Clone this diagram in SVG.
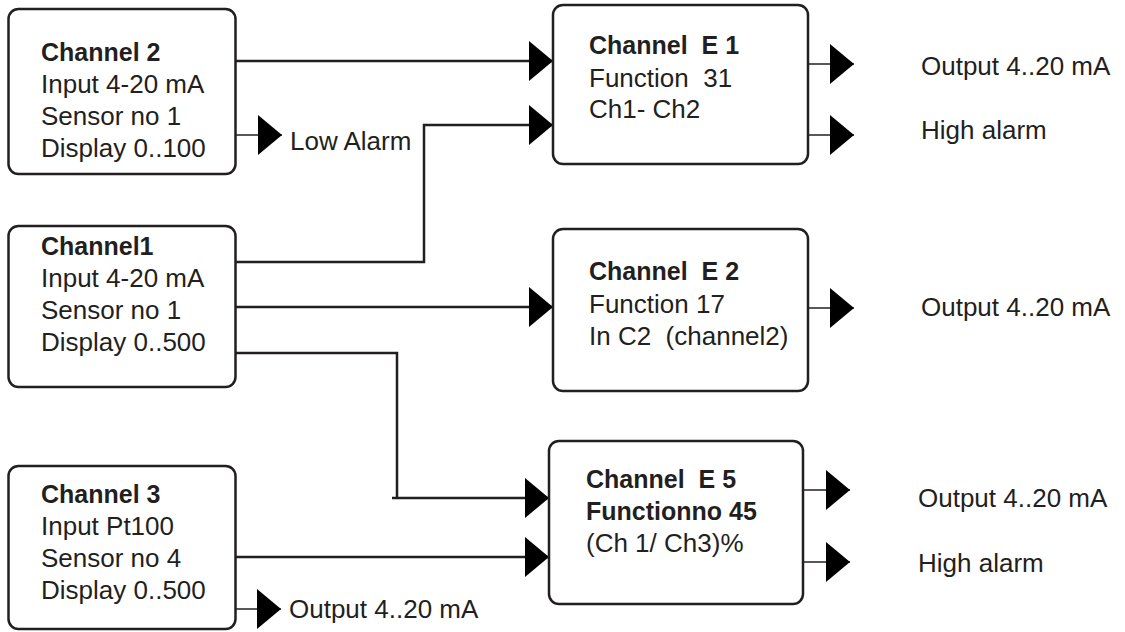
<svg xmlns="http://www.w3.org/2000/svg" width="1125" height="632" viewBox="0 0 1125 632">
<defs>
<style>
.box{fill:#fff;stroke:#231f20;stroke-width:2.5}
.t{font-family:"Liberation Sans",Arial,sans-serif;font-size:26px;fill:#231f20}
.b{font-weight:bold;font-size:25px}
.c{fill:none;stroke:#231f20;stroke-width:2.5}
.o{fill:none;stroke:#231f20;stroke-width:1.5}
</style>
<marker id="arr" markerWidth="24" markerHeight="40" refX="24" refY="20" orient="auto" markerUnits="userSpaceOnUse">
<path d="M0,0 L24,20 L0,40 Z" fill="#000"/>
</marker>
</defs>
<rect width="1125" height="632" fill="#fff"/>
<g id="connectors">
<path class="c" d="M236,61 H553" marker-end="url(#arr)"/>
<path class="c" d="M236,262 H424 V125 H553" marker-end="url(#arr)"/>
<path class="c" d="M236,307 H553" marker-end="url(#arr)"/>
<path class="c" d="M236,353 H397 V498"/>
<path class="c" d="M392,498 H549" marker-end="url(#arr)"/>
<path class="c" d="M236,557 H549" marker-end="url(#arr)"/>
<path class="o" d="M236,135 H282" marker-end="url(#arr)"/>
<path class="o" d="M236,609 H281" marker-end="url(#arr)"/>
<path class="o" d="M808,64 H854" marker-end="url(#arr)"/>
<path class="o" d="M808,135 H854" marker-end="url(#arr)"/>
<path class="o" d="M808,308 H854" marker-end="url(#arr)"/>
<path class="o" d="M803,490 H850" marker-end="url(#arr)"/>
<path class="o" d="M803,562 H850" marker-end="url(#arr)"/>
</g>
<g id="channel2">
<rect class="box" x="8.5" y="9" width="227" height="165" rx="10"/>
<text class="t b" x="41" y="61">Channel 2</text>
<text class="t" x="41" y="93">Input 4-20 mA</text>
<text class="t" x="41" y="125">Sensor no 1</text>
<text class="t" x="41" y="157">Display 0..100</text>
</g>
<g id="channel1">
<rect class="box" x="8.5" y="226" width="227" height="161" rx="10"/>
<text class="t b" x="41" y="255">Channel1</text>
<text class="t" x="41" y="287">Input 4-20 mA</text>
<text class="t" x="41" y="319">Sensor no 1</text>
<text class="t" x="41" y="351">Display 0..500</text>
</g>
<g id="channel3">
<rect class="box" x="8.5" y="466" width="227" height="163" rx="10"/>
<text class="t b" x="41" y="503">Channel 3</text>
<text class="t" x="41" y="535">Input Pt100</text>
<text class="t" x="41" y="567">Sensor no 4</text>
<text class="t" x="41" y="599">Display 0..500</text>
</g>
<g id="channelE1">
<rect class="box" x="553" y="5" width="255" height="159" rx="10"/>
<text class="t b" x="589" y="54" xml:space="preserve">Channel  E 1</text>
<text class="t" x="589" y="87" xml:space="preserve">Function  31</text>
<text class="t" x="589" y="118">Ch1- Ch2</text>
</g>
<g id="channelE2">
<rect class="box" x="553" y="229" width="255" height="162" rx="10"/>
<text class="t b" x="589" y="280" xml:space="preserve">Channel  E 2</text>
<text class="t" x="589" y="313">Function 17</text>
<text class="t" x="589" y="345" xml:space="preserve">In C2  (channel2)</text>
</g>
<g id="channelE5">
<rect class="box" x="549" y="441" width="254" height="163" rx="10"/>
<text class="t b" x="586" y="488" xml:space="preserve">Channel  E 5</text>
<text class="t b" x="586" y="520">Functionno 45</text>
<text class="t" x="586" y="552">(Ch 1/ Ch3)%</text>
</g>
<g id="labels">
<text class="t" x="290" y="150">Low Alarm</text>
<text class="t" x="289" y="618">Output 4..20 mA</text>
<text class="t" x="921" y="75">Output 4..20 mA</text>
<text class="t" x="921" y="139">High alarm</text>
<text class="t" x="921" y="316">Output 4..20 mA</text>
<text class="t" x="918" y="507">Output 4..20 mA</text>
<text class="t" x="918" y="572">High alarm</text>
</g>
</svg>
